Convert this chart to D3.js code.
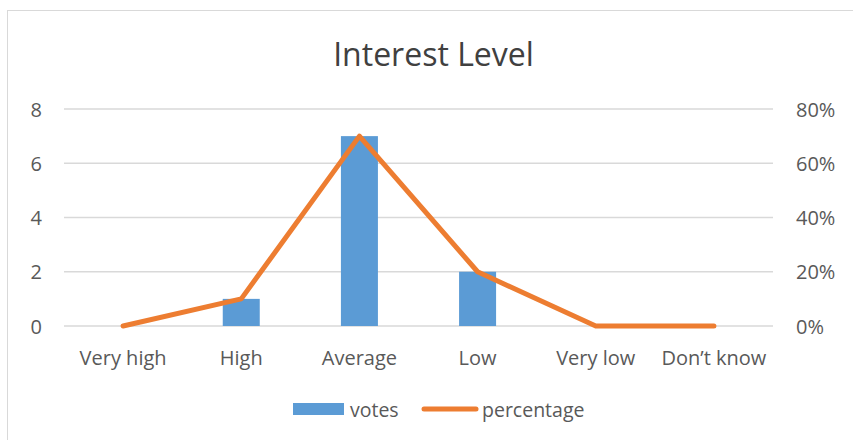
<!DOCTYPE html>
<html>
<head>
<meta charset="utf-8">
<script src="https://cdn.jsdelivr.net/npm/d3@7"></script>
<style>
  body { margin: 0; background: #fff; }
  text { font-family: "Open Sans", sans-serif; fill: #595959; }
</style>
</head>
<body>
<div class="chart"></div>
<script>
const categories = ["Very high", "High", "Average", "Low", "Very low", "Don\u2019t know"];
const votes = [0, 1, 7, 2, 0, 0];
const percentage = [0, 0.10, 0.70, 0.20, 0, 0];
const leftTicks = [0, 2, 4, 6, 8];
const rightTicks = [0, 0.2, 0.4, 0.6, 0.8];

const width = 853;
const height = 440;
const margin = { top: 109, right: 80, bottom: 114, left: 64 };

const svg = d3.select(".chart").append("svg")
  .attr("width", width)
  .attr("height", height);

// chart frame
svg.append("rect")
  .attr("x", 7.5).attr("y", 10.5)
  .attr("width", 860).attr("height", 440)
  .attr("fill", "none")
  .attr("stroke", "#d9d9d9");

const x = d3.scaleBand()
  .domain(categories)
  .range([margin.left, width - margin.right]);

const y = d3.scaleLinear().domain([0, 8]).range([height - margin.bottom, margin.top]);
const y2 = d3.scaleLinear().domain([0, 0.8]).range([height - margin.bottom, margin.top]);

// gridlines
svg.append("g")
  .selectAll("line")
  .data(leftTicks)
  .enter().append("line")
  .attr("x1", margin.left)
  .attr("x2", width - margin.right)
  .attr("y1", d => y(d))
  .attr("y2", d => y(d))
  .attr("stroke", "#d9d9d9")
  .attr("stroke-width", 1.3);

// left axis labels
svg.append("g")
  .selectAll("text")
  .data(leftTicks)
  .enter().append("text")
  .attr("x", 42)
  .attr("y", d => y(d))
  .attr("text-anchor", "end")
  .attr("dominant-baseline", "central")
  .style("font-size", "20px")
  .text(d => d);

// right axis labels
svg.append("g")
  .selectAll("text")
  .data(rightTicks)
  .enter().append("text")
  .attr("x", 796)
  .attr("y", d => y2(d))
  .attr("dominant-baseline", "central")
  .style("font-size", "20px")
  .text(d3.format(".0%"));

// category labels
svg.append("g")
  .selectAll("text")
  .data(categories)
  .enter().append("text")
  .attr("x", d => x(d) + x.bandwidth() / 2)
  .attr("y", 365)
  .attr("text-anchor", "middle")
  .style("font-size", "20px")
  .text(d => d);

// bars
const barW = 37;
svg.append("g")
  .selectAll("rect")
  .data(votes)
  .enter().append("rect")
  .attr("x", (d, i) => x(categories[i]) + x.bandwidth() / 2 - barW / 2)
  .attr("y", d => y(d))
  .attr("width", barW)
  .attr("height", d => y(0) - y(d))
  .attr("fill", "#5b9bd5");

// percentage line
const line = d3.line()
  .x((d, i) => x(categories[i]) + x.bandwidth() / 2)
  .y(d => y2(d));

svg.append("path")
  .datum(percentage)
  .attr("d", line)
  .attr("fill", "none")
  .attr("stroke", "#ed7d31")
  .attr("stroke-width", 5)
  .attr("stroke-linecap", "round")
  .attr("stroke-linejoin", "round");

// title
svg.append("text")
  .attr("x", 433.5)
  .attr("y", 66)
  .attr("text-anchor", "middle")
  .style("font-size", "32px")
  .style("fill", "#404040")
  .text("Interest Level");

// legend
const legend = svg.append("g");
legend.append("rect")
  .attr("x", 293).attr("y", 403)
  .attr("width", 51).attr("height", 12)
  .attr("fill", "#5b9bd5");
legend.append("text")
  .attr("x", 350).attr("y", 409)
  .attr("dominant-baseline", "central")
  .style("font-size", "19.5px")
  .text("votes");
legend.append("line")
  .attr("x1", 424).attr("x2", 476)
  .attr("y1", 409).attr("y2", 409)
  .attr("stroke", "#ed7d31")
  .attr("stroke-width", 5)
  .attr("stroke-linecap", "round");
legend.append("text")
  .attr("x", 482).attr("y", 409)
  .attr("dominant-baseline", "central")
  .style("font-size", "19.5px")
  .text("percentage");
</script>
</body>
</html>
